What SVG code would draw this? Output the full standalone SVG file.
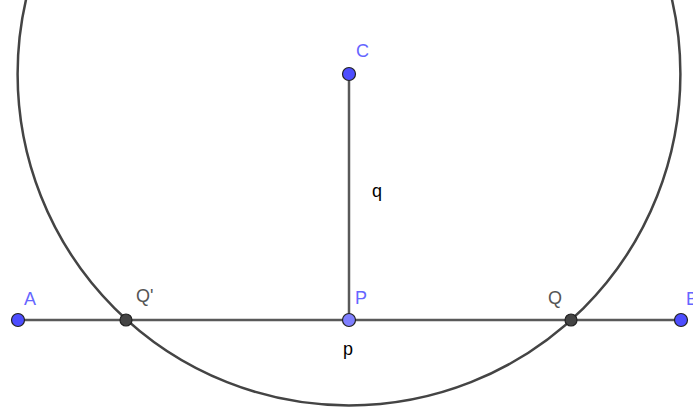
<svg xmlns="http://www.w3.org/2000/svg" width="693" height="407" viewBox="0 0 693 407">
<style>
.ln{stroke:#595959;stroke-width:2.5;fill:none}
.circ{stroke:#444;stroke-width:2.5;fill:none}
.pt{stroke:#222;stroke-width:1.2}
.bl{fill:#4d4dff}
.lb{fill:#7f7fff}
.dk{fill:#444}
text{font-family:"Liberation Sans",Arial,sans-serif;font-size:18px}
.tb{fill:#6666ff}
.tg{fill:#555}
.tk{fill:#000}
</style>
<rect width="693" height="407" fill="#fff"/>
<g id="connectors">
<circle class="circ" cx="349" cy="74" r="331.4"/>
<line class="ln" x1="18" y1="320" x2="681" y2="320"/>
<line class="ln" x1="349" y1="74" x2="349" y2="320"/>
</g>
<g id="A"><circle class="pt bl" cx="18" cy="320" r="6.5"/><text class="tb" x="24" y="305">A</text></g>
<g id="Qp"><circle class="pt dk" cx="126" cy="320" r="6"/><text class="tg" x="136" y="302">Q'</text></g>
<g id="P"><circle class="pt lb" cx="349" cy="320" r="6.5"/><text class="tb" x="355" y="304">P</text></g>
<g id="Q"><circle class="pt dk" cx="571" cy="320" r="6"/><text class="tg" x="548" y="304">Q</text></g>
<g id="B"><circle class="pt bl" cx="681" cy="320" r="6.5"/><text class="tb" x="686" y="305">B</text></g>
<g id="C"><circle class="pt bl" cx="349" cy="74" r="6.5"/><text class="tb" x="356" y="57">C</text></g>
<g id="q"><text class="tk" x="372" y="197">q</text></g>
<g id="p"><text class="tk" x="343" y="355">p</text></g>
</svg>
